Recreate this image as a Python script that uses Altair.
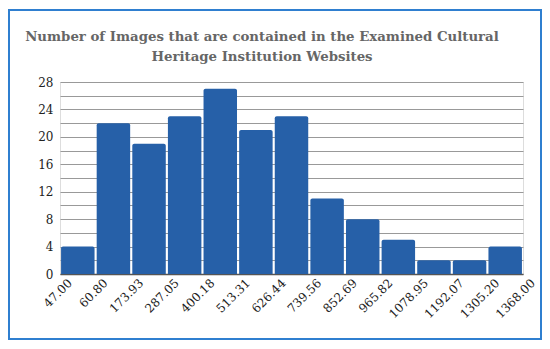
import altair as alt
import pandas as pd

edges = ["47.00", "60.80", "173.93", "287.05", "400.18", "513.31", "626.44",
         "739.56", "852.69", "965.82", "1078.95", "1192.07", "1305.20", "1368.00"]
counts = [4, 22, 19, 23, 27, 21, 23, 11, 8, 5, 2, 2, 4]
title_lines = ["Number of Images that are contained in the Examined Cultural",
               "Heritage Institution Websites"]

df = pd.DataFrame({"i": list(range(len(counts))), "count": counts})

label_map = "{" + ",".join(f"'{k}':'{v}'" for k, v in enumerate(edges)) + "}"

FONT = "DejaVu Serif"

x_scale = alt.Scale(domain=[0, len(counts)], nice=False, zero=False)
y_scale = alt.Scale(domain=[0, 28], nice=False)

bars = alt.Chart(df).transform_calculate(
    x0="datum.i + 0.03", x1="datum.i + 0.97"
).mark_bar(color="#2660a8", cornerRadiusTopLeft=2, cornerRadiusTopRight=2).encode(
    x=alt.X("x0:Q", scale=x_scale,
            axis=alt.Axis(values=list(range(len(edges))),
                          labelExpr=f"{label_map}[datum.value]",
                          labelAngle=-45, labelAlign="right", labelBaseline="top",
                          labelFont=FONT, labelFontSize=12, labelColor="#222",
                          labelPadding=3, labelOffset=6,
                          labelOverlap=False, labelBound=False,
                          ticks=False, grid=False, title=None,
                          domainColor="#555", domainWidth=1.5)),
    x2="x1:Q",
    y=alt.Y("count:Q", scale=y_scale,
            axis=alt.Axis(values=list(range(0, 29, 2)),
                          labelExpr="datum.value % 4 == 0 ? datum.label : ''",
                          labelFont=FONT, labelFontSize=12, labelColor="#222",
                          labelPadding=7, ticks=False, domain=False,
                          gridColor="#999", gridWidth=1, title=None)),
    y2=alt.datum(0),
)

border = alt.Chart(pd.DataFrame({"a": [0]})).mark_rect(
    fill=None, stroke="#2f7fd0", strokeWidth=2, clip=False
).encode(
    x=alt.value(-51), x2=alt.value(481), y=alt.value(-72), y2=alt.value(257)
)

tdf = pd.DataFrame({"line": title_lines})
title1 = alt.Chart(tdf.iloc[[0]]).mark_text(
    font=FONT, fontSize=13.3, fontWeight="bold", color="#666",
    align="center", baseline="alphabetic"
).encode(text="line:N", x=alt.value(202), y=alt.value(-41))
title2 = alt.Chart(tdf.iloc[[1]]).mark_text(
    font=FONT, fontSize=13.3, fontWeight="bold", color="#666",
    align="center", baseline="alphabetic"
).encode(text="line:N", x=alt.value(202), y=alt.value(-21))

chart = alt.layer(bars, border, title1, title2).properties(
    width=463, height=192,
    padding={"left": 52, "top": 74, "right": 19, "bottom": 67},
    autosize=alt.AutoSizeParams(type="none"),
).configure_view(stroke=None, strokeWidth=0).configure(background="white")

chart.save("out.html", embed_options={"renderer": "svg", "actions": False})
